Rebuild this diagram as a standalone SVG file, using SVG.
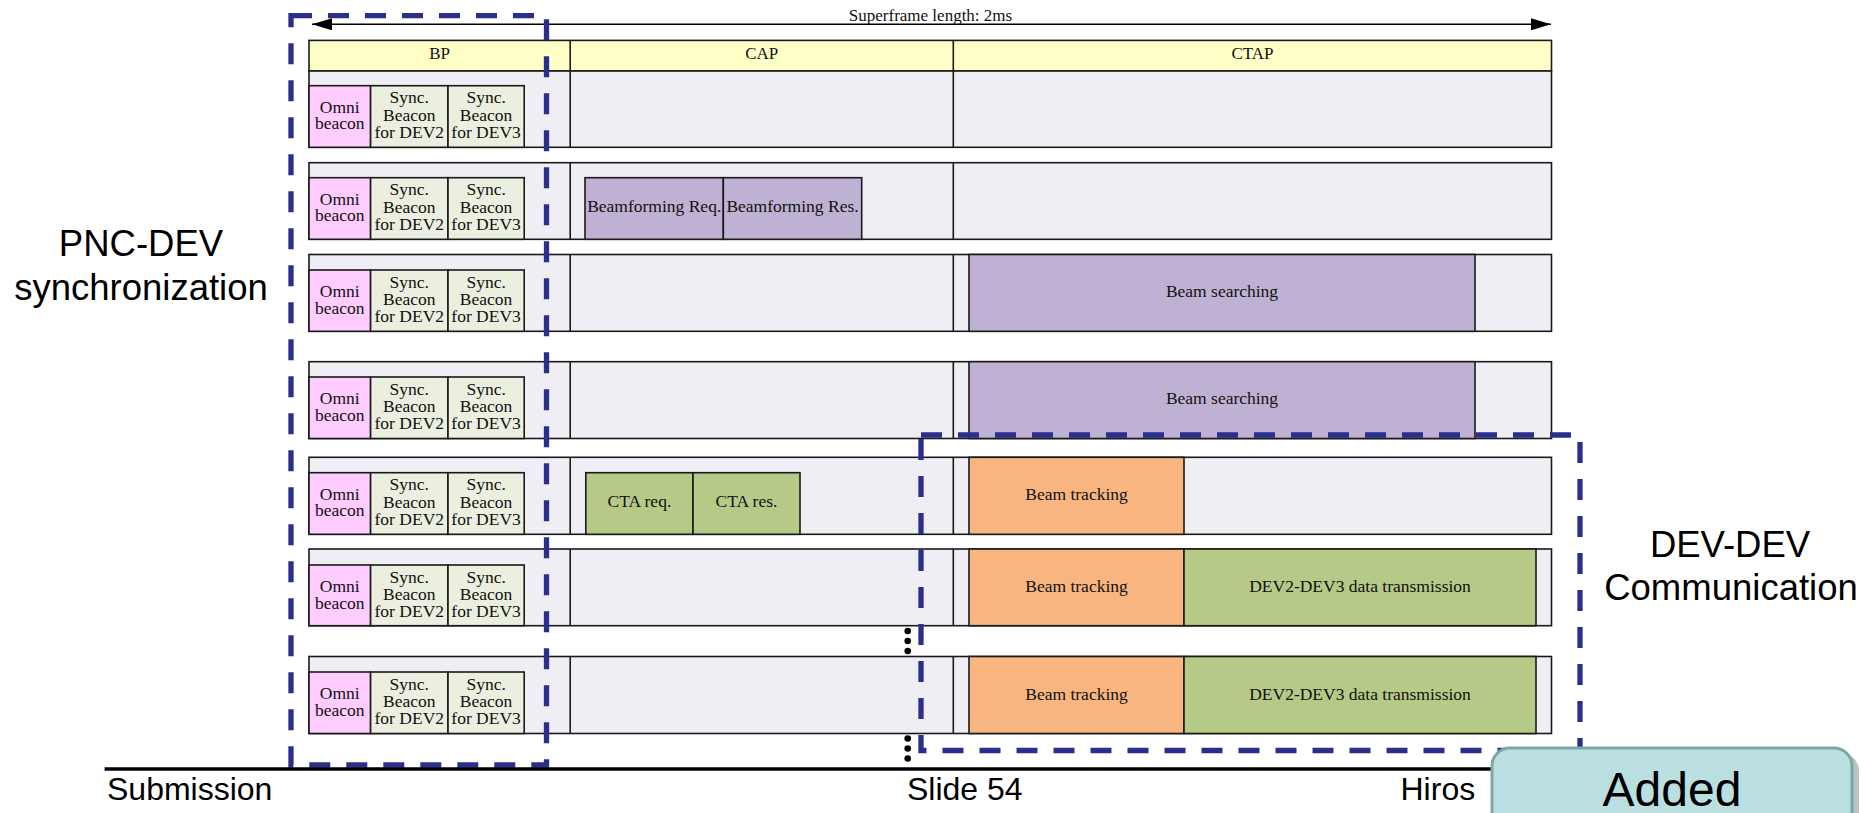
<svg xmlns="http://www.w3.org/2000/svg" width="1864" height="813" viewBox="0 0 1864 813">
<style>
  .row { fill: #efeef4; stroke: #1a1a1a; stroke-width: 1.6; }
  .hdr { fill: #ffffc8; stroke: #1a1a1a; stroke-width: 1.6; }
  .div { stroke: #1a1a1a; stroke-width: 1.6; fill: none; }
  .omni { fill: #ffccff; stroke: #1a1a1a; stroke-width: 1.6; }
  .sync { fill: #ebefdf; stroke: #1a1a1a; stroke-width: 1.6; }
  .purple { fill: #bfb1d3; stroke: #1a1a1a; stroke-width: 1.6; }
  .green { fill: #b6ca87; stroke: #1a1a1a; stroke-width: 1.6; }
  .orange { fill: #f8b580; stroke: #1a1a1a; stroke-width: 1.6; }
  .t { font-family: "Liberation Serif", "Times New Roman", serif; font-size: 17.5px; fill: #111; text-anchor: middle; }
  .th { font-family: "Liberation Serif", "Times New Roman", serif; font-size: 17px; fill: #111; text-anchor: middle; }
  .big { font-family: "Liberation Sans", Arial, sans-serif; font-size: 36.5px; fill: #000; text-anchor: middle; }
  .foot { font-family: "Liberation Sans", Arial, sans-serif; font-size: 32px; fill: #000; }
  .dash { fill: none; stroke: #2b2f8c; stroke-width: 5.3; stroke-dasharray: 21 16; }
  .dot { fill: #000; }
</style>
<defs>
  <marker id="ah" viewBox="0 0 20 12" refX="20" refY="6" markerWidth="20" markerHeight="12" markerUnits="userSpaceOnUse" orient="auto-start-reverse">
    <path d="M0,0 L20,6 L0,12 Z" fill="#000"/>
  </marker>
</defs>

<rect width="1864" height="813" fill="#fff"/>

<g id="connectors">
  <line x1="312" y1="24.3" x2="1551" y2="24.3" stroke="#000" stroke-width="1.6" marker-start="url(#ah)" marker-end="url(#ah)"/>
</g>
<text class="th" x="930.5" y="20.7">Superframe length: 2ms</text>

<g id="header">
  <rect class="hdr" x="309" y="40.4" width="1242.5" height="30.6"/>
  <line class="div" x1="570.2" y1="40.4" x2="570.2" y2="71"/>
  <line class="div" x1="953.3" y1="40.4" x2="953.3" y2="71"/>
  <text class="th" x="439.6" y="59">BP</text>
  <text class="th" x="761.7" y="59">CAP</text>
  <text class="th" x="1252.5" y="59">CTAP</text>
</g>

<!-- Row 1 -->
<g id="row1">
  <rect class="row" x="309" y="71" width="1242.5" height="76.3"/>
  <line class="div" x1="570.2" y1="71" x2="570.2" y2="147.3"/>
  <line class="div" x1="953.3" y1="71" x2="953.3" y2="147.3"/>
  <g id="row1-beacons">
    <rect class="omni" x="309" y="85.7" width="61.6" height="61.6"/>
    <rect class="sync" x="370.6" y="85.7" width="77.4" height="61.6"/>
    <rect class="sync" x="448" y="85.7" width="76.2" height="61.6"/>
    <text class="t" x="339.8" y="112.7">Omni</text><text class="t" x="339.8" y="129.3">beacon</text>
    <text class="t" x="409.3" y="103.3">Sync.</text><text class="t" x="409.3" y="120.7">Beacon</text><text class="t" x="409.3" y="137.7">for DEV2</text>
    <text class="t" x="486.1" y="103.3">Sync.</text><text class="t" x="486.1" y="120.7">Beacon</text><text class="t" x="486.1" y="137.7">for DEV3</text>
  </g>
</g>

<!-- Row 2 -->
<g id="row2">
  <rect class="row" x="309" y="162.7" width="1242.5" height="76.6"/>
  <line class="div" x1="570.2" y1="162.7" x2="570.2" y2="239.3"/>
  <line class="div" x1="953.3" y1="162.7" x2="953.3" y2="239.3"/>
  <g id="row2-beacons">
    <rect class="omni" x="309" y="177.7" width="61.6" height="61.6"/>
    <rect class="sync" x="370.6" y="177.7" width="77.4" height="61.6"/>
    <rect class="sync" x="448" y="177.7" width="76.2" height="61.6"/>
    <text class="t" x="339.8" y="204.7">Omni</text><text class="t" x="339.8" y="221.3">beacon</text>
    <text class="t" x="409.3" y="195.3">Sync.</text><text class="t" x="409.3" y="212.7">Beacon</text><text class="t" x="409.3" y="229.7">for DEV2</text>
    <text class="t" x="486.1" y="195.3">Sync.</text><text class="t" x="486.1" y="212.7">Beacon</text><text class="t" x="486.1" y="229.7">for DEV3</text>
  </g>
  <g id="bf-req">
    <rect class="purple" x="585" y="177.7" width="138.3" height="61.6"/>
    <text class="t" x="654.2" y="211.7">Beamforming Req.</text>
  </g>
  <g id="bf-res">
    <rect class="purple" x="723.3" y="177.7" width="138.4" height="61.6"/>
    <text class="t" x="792.5" y="211.7">Beamforming Res.</text>
  </g>
</g>

<!-- Row 3 -->
<g id="row3">
  <rect class="row" x="309" y="254.5" width="1242.5" height="76.8"/>
  <line class="div" x1="570.2" y1="254.5" x2="570.2" y2="331.3"/>
  <line class="div" x1="953.3" y1="254.5" x2="953.3" y2="331.3"/>
  <g id="row3-beacons">
    <rect class="omni" x="309" y="270" width="61.6" height="61.3"/>
    <rect class="sync" x="370.6" y="270" width="77.4" height="61.3"/>
    <rect class="sync" x="448" y="270" width="76.2" height="61.3"/>
    <text class="t" x="339.8" y="297">Omni</text><text class="t" x="339.8" y="313.6">beacon</text>
    <text class="t" x="409.3" y="287.6">Sync.</text><text class="t" x="409.3" y="305">Beacon</text><text class="t" x="409.3" y="322">for DEV2</text>
    <text class="t" x="486.1" y="287.6">Sync.</text><text class="t" x="486.1" y="305">Beacon</text><text class="t" x="486.1" y="322">for DEV3</text>
  </g>
  <g id="row3-search">
    <rect class="purple" x="969" y="254.5" width="506" height="76.8"/>
    <text class="t" x="1222" y="297">Beam searching</text>
  </g>
</g>

<!-- Row 4 -->
<g id="row4">
  <rect class="row" x="309" y="361.7" width="1242.5" height="76.8"/>
  <line class="div" x1="570.2" y1="361.7" x2="570.2" y2="438.5"/>
  <line class="div" x1="953.3" y1="361.7" x2="953.3" y2="438.5"/>
  <g id="row4-beacons">
    <rect class="omni" x="309" y="377" width="61.6" height="61.5"/>
    <rect class="sync" x="370.6" y="377" width="77.4" height="61.5"/>
    <rect class="sync" x="448" y="377" width="76.2" height="61.5"/>
    <text class="t" x="339.8" y="404">Omni</text><text class="t" x="339.8" y="420.6">beacon</text>
    <text class="t" x="409.3" y="394.6">Sync.</text><text class="t" x="409.3" y="412">Beacon</text><text class="t" x="409.3" y="429">for DEV2</text>
    <text class="t" x="486.1" y="394.6">Sync.</text><text class="t" x="486.1" y="412">Beacon</text><text class="t" x="486.1" y="429">for DEV3</text>
  </g>
  <g id="row4-search">
    <rect class="purple" x="969" y="361.7" width="506" height="76.8"/>
    <text class="t" x="1222" y="404">Beam searching</text>
  </g>
</g>

<!-- Row 5 -->
<g id="row5">
  <rect class="row" x="309" y="457.3" width="1242.5" height="77"/>
  <line class="div" x1="570.2" y1="457.3" x2="570.2" y2="534.3"/>
  <line class="div" x1="953.3" y1="457.3" x2="953.3" y2="534.3"/>
  <g id="row5-beacons">
    <rect class="omni" x="309" y="472.7" width="61.6" height="61.6"/>
    <rect class="sync" x="370.6" y="472.7" width="77.4" height="61.6"/>
    <rect class="sync" x="448" y="472.7" width="76.2" height="61.6"/>
    <text class="t" x="339.8" y="499.7">Omni</text><text class="t" x="339.8" y="516.3">beacon</text>
    <text class="t" x="409.3" y="490.3">Sync.</text><text class="t" x="409.3" y="507.7">Beacon</text><text class="t" x="409.3" y="524.7">for DEV2</text>
    <text class="t" x="486.1" y="490.3">Sync.</text><text class="t" x="486.1" y="507.7">Beacon</text><text class="t" x="486.1" y="524.7">for DEV3</text>
  </g>
  <g id="cta-req">
    <rect class="green" x="585.8" y="472.7" width="107.2" height="61.6"/>
    <text class="t" x="639.4" y="507">CTA req.</text>
  </g>
  <g id="cta-res">
    <rect class="green" x="693" y="472.7" width="107" height="61.6"/>
    <text class="t" x="746.5" y="507">CTA res.</text>
  </g>
  <g id="row5-track">
    <rect class="orange" x="969" y="457.3" width="215" height="77"/>
    <text class="t" x="1076.5" y="500">Beam tracking</text>
  </g>
</g>

<!-- Row 6 -->
<g id="row6">
  <rect class="row" x="309" y="549" width="1242.5" height="76.7"/>
  <line class="div" x1="570.2" y1="549" x2="570.2" y2="625.7"/>
  <line class="div" x1="953.3" y1="549" x2="953.3" y2="625.7"/>
  <g id="row6-beacons">
    <rect class="omni" x="309" y="565" width="61.6" height="60.7"/>
    <rect class="sync" x="370.6" y="565" width="77.4" height="60.7"/>
    <rect class="sync" x="448" y="565" width="76.2" height="60.7"/>
    <text class="t" x="339.8" y="592">Omni</text><text class="t" x="339.8" y="608.6">beacon</text>
    <text class="t" x="409.3" y="582.6">Sync.</text><text class="t" x="409.3" y="600">Beacon</text><text class="t" x="409.3" y="617">for DEV2</text>
    <text class="t" x="486.1" y="582.6">Sync.</text><text class="t" x="486.1" y="600">Beacon</text><text class="t" x="486.1" y="617">for DEV3</text>
  </g>
  <g id="row6-track">
    <rect class="orange" x="969" y="549" width="215" height="76.7"/>
    <text class="t" x="1076.5" y="592">Beam tracking</text>
  </g>
  <g id="row6-data">
    <rect class="green" x="1184" y="549" width="352" height="76.7"/>
    <text class="t" x="1360" y="592">DEV2-DEV3 data transmission</text>
  </g>
</g>

<!-- Row 7 -->
<g id="row7">
  <rect class="row" x="309" y="656.5" width="1242.5" height="77"/>
  <line class="div" x1="570.2" y1="656.5" x2="570.2" y2="733.5"/>
  <line class="div" x1="953.3" y1="656.5" x2="953.3" y2="733.5"/>
  <g id="row7-beacons">
    <rect class="omni" x="309" y="672" width="61.6" height="61.5"/>
    <rect class="sync" x="370.6" y="672" width="77.4" height="61.5"/>
    <rect class="sync" x="448" y="672" width="76.2" height="61.5"/>
    <text class="t" x="339.8" y="699">Omni</text><text class="t" x="339.8" y="715.6">beacon</text>
    <text class="t" x="409.3" y="689.6">Sync.</text><text class="t" x="409.3" y="707">Beacon</text><text class="t" x="409.3" y="724">for DEV2</text>
    <text class="t" x="486.1" y="689.6">Sync.</text><text class="t" x="486.1" y="707">Beacon</text><text class="t" x="486.1" y="724">for DEV3</text>
  </g>
  <g id="row7-track">
    <rect class="orange" x="969" y="656.5" width="215" height="77"/>
    <text class="t" x="1076.5" y="700">Beam tracking</text>
  </g>
  <g id="row7-data">
    <rect class="green" x="1184" y="656.5" width="352" height="77"/>
    <text class="t" x="1360" y="700">DEV2-DEV3 data transmission</text>
  </g>
</g>

<g id="ellipsis">
  <circle class="dot" cx="907.7" cy="631" r="3.3"/>
  <circle class="dot" cx="907.7" cy="641" r="3.3"/>
  <circle class="dot" cx="907.7" cy="651" r="3.3"/>
  <circle class="dot" cx="907.7" cy="738.5" r="3.3"/>
  <circle class="dot" cx="907.7" cy="748.5" r="3.3"/>
  <circle class="dot" cx="907.7" cy="758.5" r="3.3"/>
</g>

<g id="pnc-dev-box">
  <rect class="dash" x="291" y="15.7" width="255.5" height="749.3"/>
</g>
<g id="dev-dev-box">
  <rect class="dash" x="921" y="435" width="659" height="315.5"/>
</g>

<g id="pnc-dev-label">
  <text class="big" x="141" y="256">PNC-DEV</text>
  <text class="big" x="141" y="299.5">synchronization</text>
</g>
<g id="dev-dev-label">
  <text class="big" x="1730" y="556.7">DEV-DEV</text>
  <text class="big" x="1731" y="600">Communication</text>
</g>

<g id="footer">
  <line x1="104.6" y1="769" x2="1760" y2="769" stroke="#000" stroke-width="3.5"/>
  <text class="foot" x="107" y="800">Submission</text>
  <text class="foot" x="907" y="800">Slide 54</text>
  <text class="foot" x="1400.5" y="800">Hiros</text>
</g>

<g id="added-box">
  <rect x="1497" y="753" width="362" height="90" rx="18" fill="#8a9a9c" opacity="0.6"/>
  <rect x="1492" y="748" width="360" height="90" rx="18" fill="#b9dfe1" stroke="#7fa5a7" stroke-width="3"/>
  <text x="1672" y="806" font-family="Liberation Sans, Arial, sans-serif" font-size="48" text-anchor="middle" fill="#000">Added</text>
</g>
</svg>
